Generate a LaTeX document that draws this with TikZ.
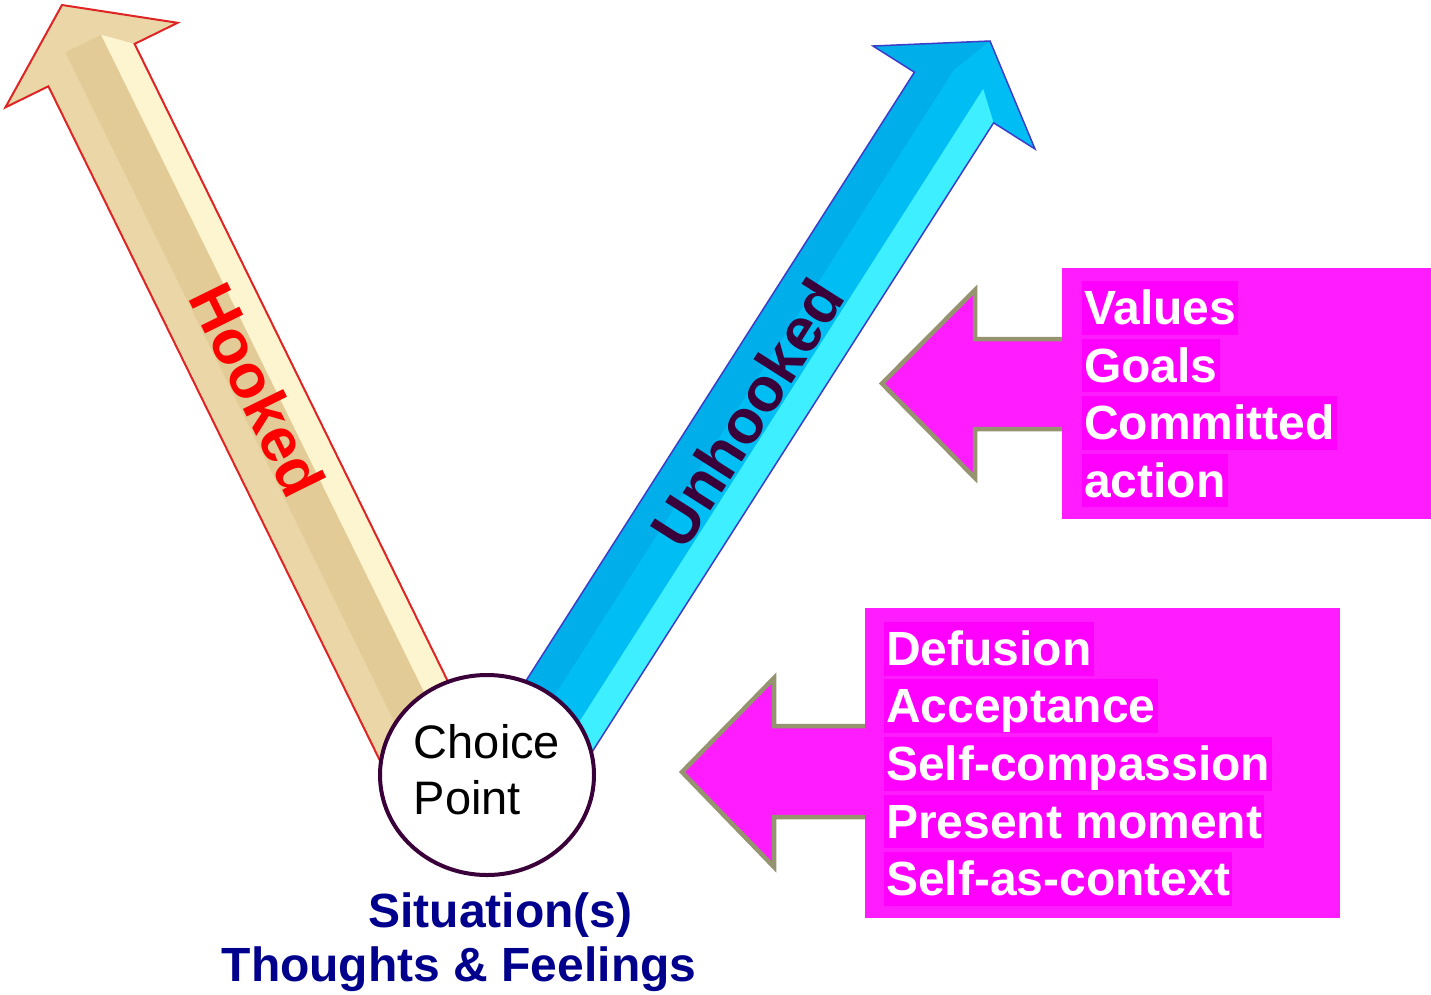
\documentclass[tikz,border=0pt]{standalone}
\usepackage{fontspec}
\setmainfont{Liberation Sans}
\usetikzlibrary{shapes.geometric}
\definecolor{tanbase}{RGB}{234,214,166}
\definecolor{tandark}{RGB}{226,203,150}
\definecolor{tancream}{RGB}{253,245,207}
\definecolor{hookedge}{RGB}{222,36,36}
\definecolor{bluemid}{RGB}{0,190,244}
\definecolor{bluedark}{RGB}{0,174,234}
\definecolor{bluelight}{RGB}{62,240,255}
\definecolor{blueedge}{RGB}{60,60,200}
\definecolor{plum}{RGB}{58,0,58}
\definecolor{navy}{RGB}{0,0,140}
\definecolor{boxmag}{RGB}{255,28,255}
\definecolor{bandmag}{RGB}{255,0,255}
\definecolor{olivegray}{RGB}{150,148,112}
\begin{document}
\begin{tikzpicture}[x=1pt,y=-1pt,
arrow label/.style={font=\bfseries\fontsize{62}{62}\selectfont,inner sep=0pt},
choice ring/.style={ellipse,draw=plum,line width=4pt,fill=white,minimum width=214pt,minimum height=200pt},
choice text/.style={align=left,font=\fontsize{47}{56}\selectfont,inner sep=0pt},
situation/.style={anchor=base,text=navy,font=\bfseries\fontsize{48}{48}\selectfont,inner sep=0pt},
magbox/.style={rectangle,fill=boxmag,inner sep=0pt},
band/.style={anchor=base west,fill=bandmag,text=white,font=\bfseries\fontsize{48}{48}\selectfont,
  inner xsep=2pt,inner ysep=0pt,text height=43.4pt,text depth=10.2pt},
block arrow/.style={fill=boxmag,draw=olivegray,line width=4.5pt,line join=miter}]
\useasboundingbox (0,0) rectangle (1431,994);

\coordinate (hT) at (62,5);
\coordinate (hR) at (177.6,22.8);
\coordinate (hNR) at (134.6,43.9);
\coordinate (hBR) at (493,773.2);
\coordinate (hBL) at (407,815.6);
\coordinate (hNL) at (48.4,86.3);
\coordinate (hL) at (5.4,107.4);
\fill[tanbase] (hT) -- (hR) -- (hNR) -- (hBR) -- (hBL) -- (hNL) -- (hL) -- cycle;
\fill[tandark] (65.3,52.4) -- (101.1,34.8) -- (469.7,784.7) -- (433.9,802.3) -- cycle;
\fill[tancream] (101.1,34.8) -- (hNR) -- (hBR) -- (469.7,784.7) -- cycle;
\draw[hookedge,line width=2pt,line join=miter] (hT) -- (hR) -- (hNR) -- (hBR) -- (hBL) -- (hNL) -- (hL) -- cycle;

\coordinate (uT) at (990,41);
\coordinate (uL) at (873,46);
\coordinate (uNL) at (914.4,72.2);
\coordinate (uBL) at (477,757.5);
\coordinate (uBR) at (556.2,808.1);
\coordinate (uNR) at (993.6,122.8);
\coordinate (uR) at (1035,149);
\fill[bluemid] (uT) -- (uR) -- (uNR) -- (uBR) -- (uBL) -- (uNL) -- (uL) -- cycle;
\fill[bluedark] (uL) -- (uT) -- (953.7,70) -- (504,774.7) -- (uBL) -- (uNL) -- cycle;
\fill[bluelight] (983.2,88.9) -- (uNR) -- (uBR) -- (533.5,793.6) -- cycle;
\draw[blueedge,line width=1.5pt,line join=miter] (uT) -- (uR) -- (uNR) -- (uBR) -- (uBL) -- (uNL) -- (uL) -- cycle;

\node[arrow label,text=red,rotate=-63.8] (hooked) at (258,390) {Hooked};
\node[arrow label,text=plum,rotate=57.5] (unhooked) at (747,413) {Unhooked};

\node[choice ring] (cp) at (487,775) {};
\node[choice text] (cptext) at (487,770) {Choice\\Point};

\node[situation] (situations) at (500.5,927) {Situation(s)};
\node[situation] (thoughts) at (459,981) {Thoughts \& Feelings};

\filldraw[block arrow] (1075,339) -- (975,339) -- (975,290) -- (882,383.5) -- (975,478) -- (975,429) -- (1075,429);
\filldraw[block arrow] (878,726) -- (774,726) -- (774,678) -- (682,772) -- (774,867) -- (774,817) -- (878,817);

\node[magbox,minimum width=369pt,minimum height=251pt] (valuebox) at (1246.5,393.5) {};
\node[magbox,minimum width=475pt,minimum height=310pt] (skillbox) at (1102.5,763) {};

\node[band] (values) at (1082,324.5) {Values};
\node[band] (goals) at (1082,382) {Goals};
\node[band] (committed) at (1082,439.5) {Committed};
\node[band] (action) at (1082,497) {action};
\node[band] (defusion) at (884,665.4) {Defusion};
\node[band] (acceptance) at (884,722.6) {Acceptance};
\node[band] (selfcomp) at (884,780.4) {Self-compassion};
\node[band] (present) at (884,838) {Present moment};
\node[band] (selfctx) at (884,895.4) {Self-as-context};
\end{tikzpicture}
\end{document}
